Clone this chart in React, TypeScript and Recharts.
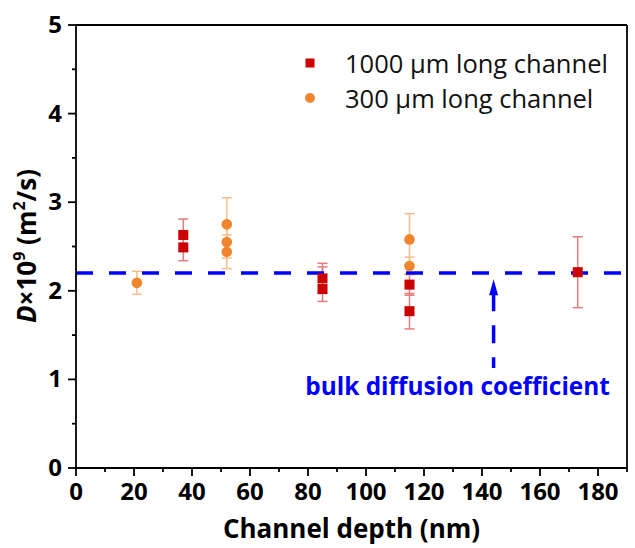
import React from 'react';
import { ScatterChart, Scatter, XAxis, YAxis, ErrorBar, ReferenceLine, Legend } from 'recharts';

// 1000 um long channel
const longDepth = [37, 37, 85, 85, 115, 115, 173];
const longD = [2.63, 2.49, 2.14, 2.02, 2.07, 1.77, 2.21];
const longErrLow = [0.18, 0.15, 0.17, 0.14, 0.12, 0.2, 0.4];
const longErrHigh = [0.18, 0.15, 0.17, 0.25, 0.12, 0.2, 0.4];

// 300 um long channel
const shortDepth = [21, 52, 52, 52, 115, 115];
const shortD = [2.09, 2.75, 2.55, 2.44, 2.58, 2.28];
const shortErr = [0.13, 0.3, 0.18, 0.19, 0.29, 0.1];

const bulkD = 2.2;
const arrowDepth = 144;
const arrowFrom = 1.13;
const arrowTo = 2.13;

const xTicks = [0, 10, 20, 30, 40, 50, 60, 70, 80, 90, 100, 110, 120, 130, 140, 150, 160, 170, 180, 190];
const yTicks = [0, 0.5, 1, 1.5, 2, 2.5, 3, 3.5, 4, 4.5, 5];

const seriesNames = ['1000 µm long channel', '300 µm long channel'];

const longData = longDepth.map((x, i) => ({ x, y: longD[i], err: [longErrLow[i], longErrHigh[i]] }));
const shortData = shortDepth.map((x, i) => ({ x, y: shortD[i], err: shortErr[i] }));

const FONT = '"Open Sans", "Noto Sans", sans-serif';
const RED = '#CC0000';
const ORANGE = '#F0852D';
const BLUE = '#0000FF';
const AX = 1.8;

const BottomTick = ({ x, y, payload }: any) => {
  const v = payload.value;
  const major = v % 20 === 0;
  return (
    <g>
      <line x1={x} x2={x} y1={y} y2={y + (major ? 8 : 4)} stroke="#000" strokeWidth={AX} />
      {major && (
        <text x={x} y={y + 32} textAnchor="middle" fontFamily={FONT} fontWeight={700} fontSize={24} fill="#000">
          {v}
        </text>
      )}
    </g>
  );
};

const TopTick = ({ x, y, payload }: any) => {
  const major = payload.value % 20 === 0;
  return <line x1={x} x2={x} y1={y} y2={y - (major ? 8 : 4)} stroke="#000" strokeWidth={AX} />;
};

const LeftTick = ({ x, y, payload }: any) => {
  const v = payload.value;
  const major = Number.isInteger(v);
  return (
    <g>
      <line x1={x} x2={x - (major ? 8 : 4)} y1={y} y2={y} stroke="#000" strokeWidth={AX} />
      {major && (
        <text x={x - 14} y={y + 8} textAnchor="end" fontFamily={FONT} fontWeight={700} fontSize={24} fill="#000">
          {v}
        </text>
      )}
    </g>
  );
};

const RightTick = ({ x, y, payload }: any) => {
  const major = Number.isInteger(payload.value);
  return <line x1={x} x2={x + (major ? 8 : 4)} y1={y} y2={y} stroke="#000" strokeWidth={AX} />;
};

const YLabel = () => (
  <text transform="translate(36,246) rotate(-90)" textAnchor="middle" fontFamily={FONT} fontWeight={700} fontSize={26} fill="#000">
    <tspan fontStyle="italic">D</tspan>
    <tspan>×10</tspan>
    <tspan dy={-11} fontSize={16}>9</tspan>
    <tspan dy={11}> (m</tspan>
    <tspan dy={-11} fontSize={16}>2</tspan>
    <tspan dy={11}>/s)</tspan>
  </text>
);

const XLabel = ({ viewBox }: any) => (
  <text x={viewBox.x + viewBox.width / 2} y={viewBox.y + 70} textAnchor="middle" fontFamily={FONT} fontWeight={700} fontSize={26} fill="#000">
    Channel depth (nm)
  </text>
);

const Square = ({ cx, cy }: any) => <rect x={cx - 5} y={cy - 5} width={10} height={10} fill={RED} />;
const Dot = ({ cx, cy }: any) => <circle cx={cx} cy={cy} r={5.3} fill={ORANGE} />;

const Arrow = ({ x1, y1, x2, y2 }: any) => (
  <g>
    <line x1={x1} y1={y2 + 14} x2={x2} y2={y1} stroke={BLUE} strokeWidth={3.5} strokeDasharray="18 14" />
    <polygon points={`${x2},${y2} ${x2 - 4.5},${y2 + 16} ${x2 + 4.5},${y2 + 16}`} fill={BLUE} />
    <text x={x1 - 36} y={y1 + 27} textAnchor="middle" fontFamily={FONT} fontWeight={700} fontSize={24.4} fill={BLUE}>
      bulk diffusion coefficient
    </text>
  </g>
);

const LegendBox = () => (
  <div style={{ fontFamily: FONT, fontSize: 25.5, color: '#111' }}>
    {seriesNames.map((n, i) => (
      <div key={n} style={{ display: 'flex', alignItems: 'center', height: 35 }}>
        <svg width={20} height={20} style={{ marginRight: 25 }}>
          {i === 0 ? <rect x={5.5} y={5.5} width={9} height={9} fill={RED} /> : <circle cx={10} cy={10} r={5} fill={ORANGE} />}
        </svg>
        <span>{n}</span>
      </div>
    ))}
  </div>
);

export default function App() {
  return (
    <div style={{ position: 'absolute', left: 0, top: 0, background: '#fff' }}>
      <ScatterChart width={635} height={548} margin={{ top: 24, right: 7, bottom: 0, left: 0 }}>
        <XAxis
          xAxisId="b"
          type="number"
          dataKey="x"
          domain={[0, 190]}
          ticks={xTicks}
          interval={0}
          height={80}
          tickSize={0}
          tickMargin={0}
          tick={<BottomTick />}
          axisLine={{ stroke: '#000', strokeWidth: AX }}
          tickLine={false}
          label={<XLabel />}
        />
        <XAxis
          xAxisId="t"
          orientation="top"
          type="number"
          dataKey="x"
          domain={[0, 190]}
          ticks={xTicks}
          interval={0}
          height={1}
          tickSize={0}
          tickMargin={0}
          tick={<TopTick />}
          axisLine={{ stroke: '#000', strokeWidth: AX }}
          tickLine={false}
        />
        <YAxis
          yAxisId="l"
          type="number"
          dataKey="y"
          domain={[0, 5]}
          ticks={yTicks}
          interval={0}
          width={76}
          tickSize={0}
          tickMargin={0}
          tick={<LeftTick />}
          axisLine={{ stroke: '#000', strokeWidth: AX }}
          tickLine={false}
          label={<YLabel />}
        />
        <YAxis
          yAxisId="r"
          orientation="right"
          type="number"
          dataKey="y"
          domain={[0, 5]}
          ticks={yTicks}
          interval={0}
          width={1}
          tickSize={0}
          tickMargin={0}
          tick={<RightTick />}
          axisLine={{ stroke: '#000', strokeWidth: AX }}
          tickLine={false}
        />
        <Legend
          layout="vertical"
          align="center"
          verticalAlign="middle"
          content={<LegendBox />}
          wrapperStyle={{ left: 300, top: 45, width: 330 }}
        />
        <Scatter name={seriesNames[0]} data={longData} xAxisId="b" yAxisId="l" shape={<Square />} isAnimationActive={false}>
          <ErrorBar dataKey="err" direction="y" width={5} stroke="#E57C7C" strokeWidth={1.5} />
        </Scatter>
        <Scatter name={seriesNames[1]} data={shortData} xAxisId="b" yAxisId="l" shape={<Dot />} isAnimationActive={false}>
          <ErrorBar dataKey="err" direction="y" width={5} stroke="#F8BE8C" strokeWidth={1.5} />
        </Scatter>
        <ReferenceLine xAxisId="b" yAxisId="l" y={bulkD} stroke={BLUE} strokeWidth={3.5} strokeDasharray="17 16" />
        <ReferenceLine
          xAxisId="b"
          yAxisId="l"
          segment={[
            { x: arrowDepth, y: arrowFrom },
            { x: arrowDepth, y: arrowTo },
          ]}
          shape={<Arrow />}
        />
      </ScatterChart>
    </div>
  );
}
